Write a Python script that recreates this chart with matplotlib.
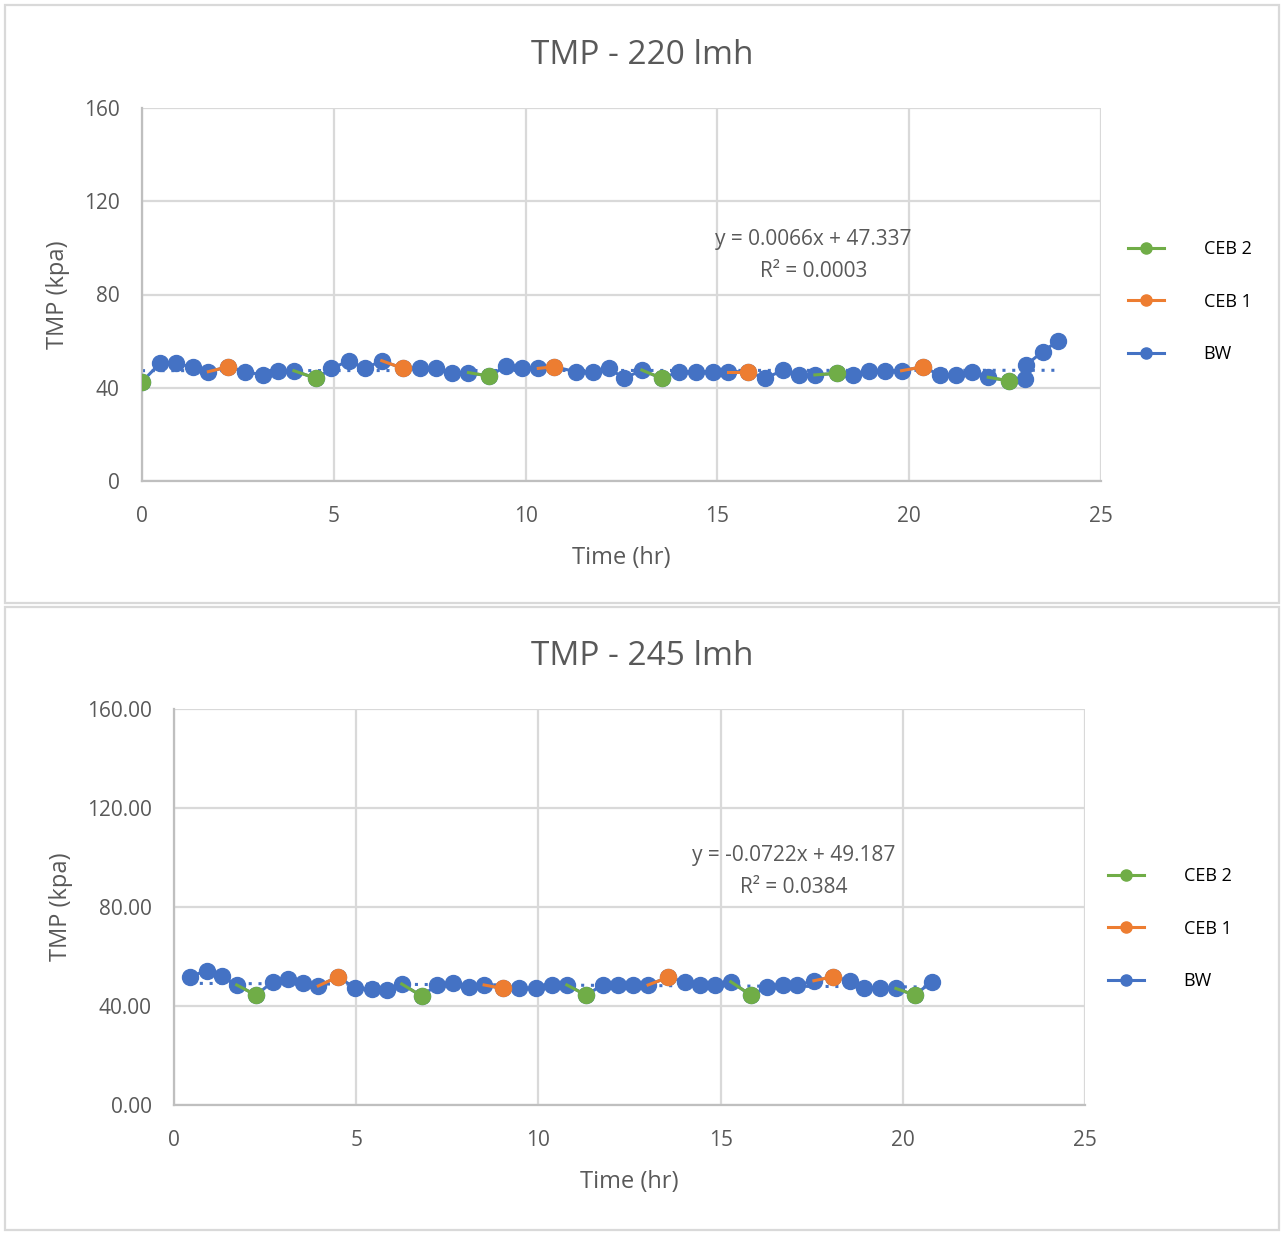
import matplotlib
matplotlib.use("Agg")
import matplotlib.pyplot as plt
from matplotlib.lines import Line2D
from matplotlib.patches import Rectangle
import numpy as np

plt.rcParams["font.family"] = ["Open Sans", "DejaVu Sans"]

# ---- 220 lmh run -------------------------------------------------------
t220 = [0.00, 0.47, 0.89, 1.32, 1.73, 2.25, 2.69, 3.15, 3.55, 3.96, 4.54,
        4.94, 5.40, 5.81, 6.25, 6.80, 7.25, 7.66, 8.07, 8.51, 9.05, 9.49,
        9.90, 10.33, 10.74, 11.31, 11.75, 12.18, 12.57, 13.03, 13.55, 14.01,
        14.44, 14.88, 15.28, 15.81, 16.24, 16.72, 17.14, 17.54, 18.11, 18.54,
        18.96, 19.37, 19.80, 20.35, 20.80, 21.22, 21.63, 22.06, 22.61, 23.02,
        23.05, 23.48, 23.89]
tmp220 = [42.6, 50.5, 50.5, 48.8, 46.9, 49.0, 46.9, 45.5, 47.3, 47.3, 44.0,
          48.3, 51.6, 48.3, 51.6, 48.3, 48.3, 48.3, 46.5, 46.5, 45.0, 49.3,
          48.3, 48.3, 49.0, 46.9, 46.9, 48.3, 44.0, 47.6, 44.0, 46.9,
          46.9, 46.9, 46.9, 46.9, 44.0, 47.6, 45.5, 45.5, 46.2, 45.5,
          47.3, 47.3, 47.3, 49.0, 45.5, 45.5, 46.9, 44.5, 42.9, 43.6,
          49.8, 55.5, 60.2]
# indices of chemically enhanced backwash points
ceb1_220 = [5, 15, 24, 35, 45]
ceb2_220 = [0, 10, 20, 30, 40, 50]
trend220 = (0.0066, 47.337)
r2_220 = "0.0003"

# ---- 245 lmh run -------------------------------------------------------
t245 = [0.44, 0.90, 1.31, 1.72, 2.25, 2.71, 3.14, 3.55, 3.96, 4.51, 4.97,
        5.43, 5.84, 6.25, 6.80, 7.21, 7.65, 8.10, 8.51, 9.02, 9.48, 9.93,
        10.36, 10.78, 11.31, 11.76, 12.19, 12.60, 13.01, 13.56, 14.02, 14.43,
        14.84, 15.28, 15.83, 16.28, 16.70, 17.11, 17.56, 18.09, 18.55, 18.94,
        19.37, 19.81, 20.33, 20.79]
tmp245 = [51.9, 54.3, 52.1, 48.5, 44.4, 49.8, 50.8, 49.2, 48.1, 51.9, 47.1,
          46.7, 46.5, 48.9, 44.0, 48.5, 49.4, 47.6, 48.5, 47.1, 47.1, 47.1,
          48.5, 48.5, 44.4, 48.5, 48.5, 48.5, 48.5, 51.6, 49.8, 48.5,
          48.5, 49.8, 44.4, 47.6, 48.5, 48.5, 50.2, 51.9, 50.2, 47.1,
          47.1, 47.1, 44.4, 49.8]
ceb1_245 = [9, 19, 29, 39]
ceb2_245 = [4, 14, 24, 34, 44]
trend245 = (-0.0722, 49.187)
r2_245 = "0.0384"

BLUE = "#4472C4"
ORANGE = "#ED7D31"
GREEN = "#70AD47"
GRID = "#D9D9D9"
TEXT = "#595959"

fig = plt.figure(figsize=(12.87, 12.33), dpi=100)
W, H = 1287, 1233

# chart-area frames
for (x0, y0, x1, y1) in [(5, 5, 1279, 603), (5, 607, 1279, 1230)]:
    fig.add_artist(Rectangle((x0 / W, 1 - y1 / H), (x1 - x0) / W, (y1 - y0) / H,
                             transform=fig.transFigure, fill=False,
                             edgecolor=GRID, linewidth=1.6))


def draw_panel(ax, t, y, ceb1, ceb2, trend, r2, title, title_x, yfmt,
               eq_xy, leg_anchor):
    t = np.asarray(t)
    y = np.asarray(y)
    ms, lw = 11.5, 2.2
    # backwash series through every sample
    ax.plot(t, y, color=BLUE, lw=lw, marker="o", ms=ms, zorder=3)
    # CEB segments: from the preceding sample to the CEB sample
    for idx, col in ((ceb1, ORANGE), (ceb2, GREEN)):
        for i in idx:
            j = max(i - 1, 0)
            ax.plot(t[j:i + 1], y[j:i + 1], color=col, lw=lw, zorder=4)
            ax.plot(t[i], y[i], color=col, marker="o", ms=ms, zorder=5)
    # linear trendline
    slope, icpt = trend
    tx = np.array([t.min(), t.max()])
    ax.plot(tx, slope * tx + icpt, color=BLUE, lw=2.2, ls=(0, (1, 2.2)), zorder=2)
    ax.text(eq_xy[0], eq_xy[1],
            f"y = {slope:.4f}x + {icpt:.3f}\nR² = {r2}",
            ha="center", va="top", fontsize=15, color=TEXT,
            linespacing=1.65, zorder=6)

    ax.set_xlim(0, 25)
    ax.set_ylim(0, 160)
    ax.set_xticks(range(0, 26, 5))
    ax.set_yticks(range(0, 161, 40))
    ax.set_yticklabels([yfmt.format(v) for v in range(0, 161, 40)])
    ax.grid(True, color=GRID, lw=1.6, zorder=0)
    ax.set_axisbelow(True)
    for s in ("top", "right"):
        ax.spines[s].set_visible(False)
    for s in ("left", "bottom"):
        ax.spines[s].set_color("#BFBFBF")
        ax.spines[s].set_linewidth(1.6)
    ax.tick_params(length=0, labelsize=15, labelcolor=TEXT)
    ax.tick_params(axis="y", pad=16)
    ax.tick_params(axis="x", pad=18)
    ax.set_xlabel("Time (hr)", fontsize=17, color=TEXT, labelpad=14)
    ax.set_ylabel("TMP (kpa)", fontsize=17, color=TEXT, labelpad=10)
    ax.set_title(title, x=title_x, fontsize=24, color=TEXT, pad=32)

    handles = [Line2D([], [], color=GREEN, lw=lw, marker="o", ms=8),
               Line2D([], [], color=ORANGE, lw=lw, marker="o", ms=8),
               Line2D([], [], color=BLUE, lw=lw, marker="o", ms=8)]
    ax.legend(handles, ["CEB 2", "CEB 1", "BW"], loc="center left",
              bbox_to_anchor=leg_anchor, frameon=False, fontsize=13,
              labelcolor="black", handlelength=2.0, handletextpad=2.2,
              labelspacing=1.9, borderpad=0, borderaxespad=0)


ax1 = fig.add_axes([142 / W, 1 - 481 / H, (1101 - 142) / W, (481 - 108) / H])
draw_panel(ax1, t220, tmp220, ceb1_220, ceb2_220, trend220, r2_220,
           "TMP - 220 lmh", (642 - 142) / 959, "{:d}", (17.5, 108),
           (1.028, 0.481))

ax2 = fig.add_axes([174 / W, 1 - 1105 / H, (1085 - 174) / W, (1105 - 709) / H])
draw_panel(ax2, t245, tmp245, ceb1_245, ceb2_245, trend245, r2_245,
           "TMP - 245 lmh", (642 - 174) / 911, "{:.2f}", (17.0, 105),
           (1.025, 0.445))

fig.savefig("out.png", dpi=100, facecolor="white")
